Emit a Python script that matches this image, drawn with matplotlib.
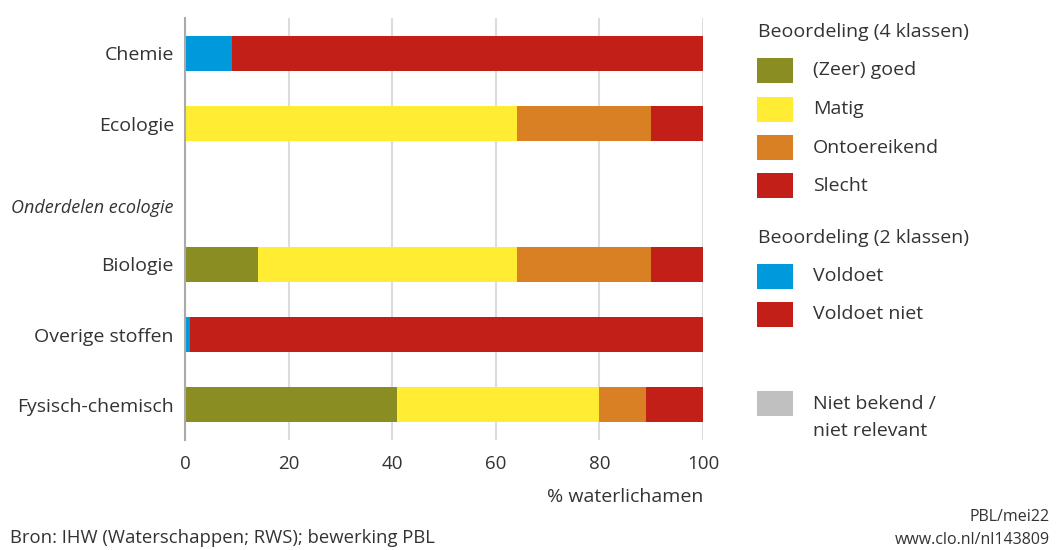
import matplotlib
matplotlib.use("Agg")
import matplotlib.pyplot as plt
from matplotlib.patches import Rectangle
import numpy as np

plt.rcParams['font.family'] = ['Open Sans', 'DejaVu Sans']

# rijen (positie 2 blijft leeg voor de tussenkop "Onderdelen ecologie")
row_pos = [0, 1, 3, 4, 5]
row_names = ["Chemie", "Ecologie", "Biologie", "Overige stoffen", "Fysisch-chemisch"]

# beoordeling in 4 klassen (% waterlichamen)
goed = [0, 0, 14, 0, 41]
matig = [0, 64, 50, 0, 39]
ontoereikend = [0, 26, 26, 0, 9]
slecht = [0, 10, 10, 0, 11]
# beoordeling in 2 klassen
voldoet = [9, 0, 0, 1, 0]
voldoet_niet = [91, 0, 0, 99, 0]

kleuren = {
    "goed": "#8a8d22",
    "matig": "#ffec33",
    "ontoereikend": "#d88023",
    "slecht": "#c21f18",
    "voldoet": "#0099dc",
    "voldoet_niet": "#c21f18",
    "onbekend": "#c0c0c0",
}
tekst = "#333333"

W, H = 1057, 550
fig = plt.figure(figsize=(W / 100, H / 100), dpi=100)
ax = fig.add_axes([185 / W, 1 - 440 / H, 518 / W, 422 / H])

series = [
    (goed, "goed"), (matig, "matig"), (ontoereikend, "ontoereikend"),
    (slecht, "slecht"), (voldoet, "voldoet"), (voldoet_niet, "voldoet_niet"),
]
left = np.zeros(len(row_pos))
for vals, key in series:
    vals = np.array(vals, dtype=float)
    ax.barh(row_pos, vals, left=left, height=0.5, color=kleuren[key],
            edgecolor="none", zorder=3)
    left += vals

ax.set_xlim(0, 100)
ax.set_ylim(5.5, -0.5)
ax.set_xticks([0, 20, 40, 60, 80, 100])
ax.tick_params(axis="x", length=0, labelsize=13.5, colors=tekst, pad=11)
ax.set_yticks(row_pos)
ax.set_yticklabels(row_names)
ax.tick_params(axis="y", length=0, labelsize=14, colors=tekst, pad=8)
ax.grid(axis="x", color="#dcdcdc", linewidth=1.5, zorder=0)
for s in ["top", "right", "bottom"]:
    ax.spines[s].set_visible(False)
ax.spines["left"].set_color("#aaaaaa")
ax.spines["left"].set_linewidth(1.5)
ax.spines["left"].set_zorder(4)

ax.text(-0.022, 2.2, "Onderdelen ecologie", transform=ax.get_yaxis_transform(),
        ha="right", va="center", fontsize=13, style="italic", color=tekst)

fig.text(703 / W, 1 - 497 / H, "% waterlichamen", ha="right", va="center",
         fontsize=14, color=tekst)


def px(x, y):
    return x / W, 1 - y / H


# legenda
def swatch(y, color):
    x0, y0 = px(757, y + 12.5)
    fig.add_artist(Rectangle((x0, y0), 36 / W, 25 / H, transform=fig.transFigure,
                             facecolor=color, edgecolor="none"))


def leg_text(x, y, s):
    fig.text(*px(x, y), s, ha="left", va="center", fontsize=14, color=tekst)


leg_text(758, 32, "Beoordeling (4 klassen)")
for y, key, lab in [(70, "goed", "(Zeer) goed"), (109, "matig", "Matig"),
                    (148, "ontoereikend", "Ontoereikend"), (186, "slecht", "Slecht")]:
    swatch(y, kleuren[key])
    leg_text(813, y, lab)
leg_text(758, 238, "Beoordeling (2 klassen)")
for y, key, lab in [(276, "voldoet", "Voldoet"), (314, "voldoet_niet", "Voldoet niet")]:
    swatch(y, kleuren[key])
    leg_text(813, y, lab)
swatch(403, kleuren["onbekend"])
leg_text(813, 404, "Niet bekend /")
leg_text(813, 431, "niet relevant")

# bron en kenmerk
fig.text(*px(10, 538), "Bron: IHW (Waterschappen; RWS); bewerking PBL",
         ha="left", va="center", fontsize=13.3, color=tekst)
fig.text(*px(1050, 517), "PBL/mei22", ha="right", va="center",
         fontsize=11.5, color=tekst)
fig.text(*px(1050, 540), "www.clo.nl/nl143809", ha="right", va="center",
         fontsize=11.5, color=tekst)

fig.savefig("out.png", dpi=100, facecolor="white")
